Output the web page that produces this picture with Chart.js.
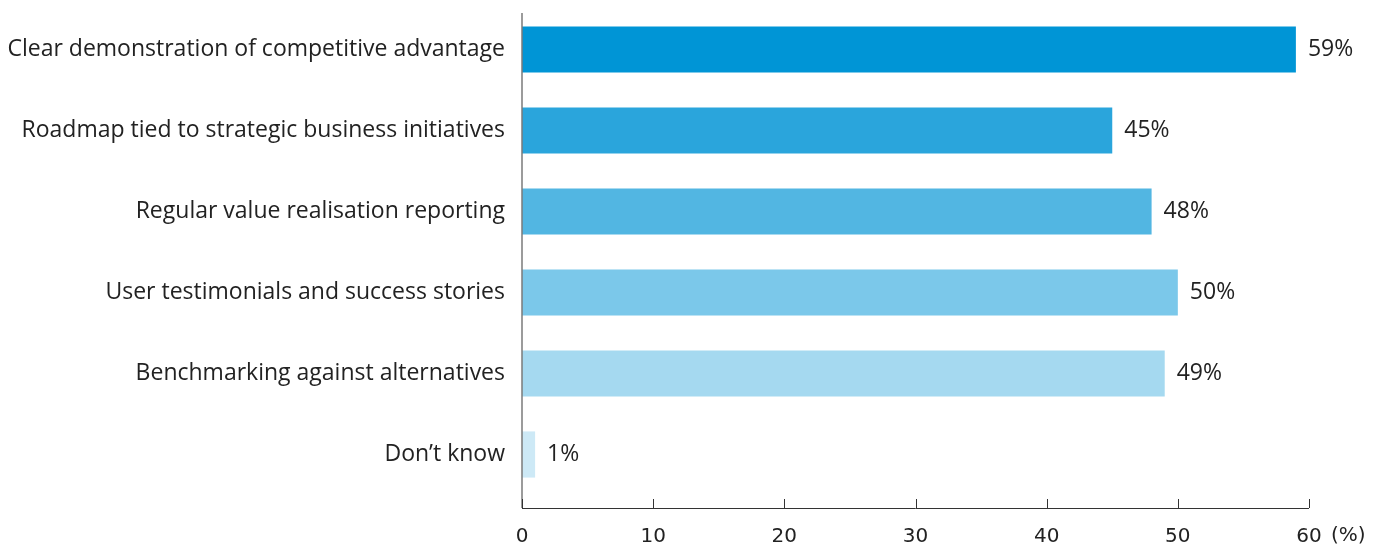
<!DOCTYPE html>
<html>
<head>
<meta charset="utf-8">
<script src="https://cdn.jsdelivr.net/npm/chart.js@4"></script>
<style>
  html, body { margin: 0; padding: 0; background: #fff; }
  #wrap { width: 1383px; height: 544px; position: relative; }
</style>
</head>
<body>
<div id="wrap"><canvas id="valueChart"></canvas></div>
<script>
// chart data
const categories = [
    'Clear demonstration of competitive advantage',
    'Roadmap tied to strategic business initiatives',
    'Regular value realisation reporting',
    'User testimonials and success stories',
    'Benchmarking against alternatives',
    'Don\u2019t know'
];
const values = [59, 45, 48, 50, 49, 1];
const barColors = ['#0095d6', '#2aa5dc', '#52b6e2', '#7bc8ea', '#a5d9f0', '#cde9f6'];
const xTicks = [0, 10, 20, 30, 40, 50, 60];
const unitLabel = '(%)';

const labelFont = '"Open Sans", Lato, sans-serif';
const tickFont = '"DejaVu Sans", sans-serif';

// axis lines, tick marks and value labels
const axisPlugin = {
    id: 'axisPlugin',
    afterDatasetsDraw(chart) {
        const ctx = chart.ctx;
        const xs = chart.scales.x;
        const area = chart.chartArea;
        const x0 = xs.getPixelForValue(0);
        const axisY = area.bottom + 13;

        ctx.save();
        // vertical axis
        ctx.strokeStyle = '#7a7a7a';
        ctx.lineWidth = 1.5;
        ctx.beginPath();
        ctx.moveTo(x0, 13);
        ctx.lineTo(x0, axisY);
        ctx.stroke();

        // horizontal axis with inner tick marks
        ctx.strokeStyle = '#333';
        ctx.lineWidth = 1;
        ctx.beginPath();
        ctx.moveTo(x0, axisY + 0.5);
        ctx.lineTo(xs.getPixelForValue(60), axisY + 0.5);
        xTicks.forEach(t => {
            const px = Math.round(xs.getPixelForValue(t)) + 0.5;
            ctx.moveTo(px, axisY);
            ctx.lineTo(px, axisY - 9);
        });
        ctx.stroke();

        // unit next to last tick
        ctx.fillStyle = '#222';
        ctx.font = '20px ' + tickFont;
        ctx.textBaseline = 'middle';
        ctx.textAlign = 'left';
        ctx.fillText(unitLabel, xs.getPixelForValue(60) + 22, 536);

        // value labels
        ctx.font = '23px ' + labelFont;
        const meta = chart.getDatasetMeta(0);
        meta.data.forEach((bar, i) => {
            ctx.fillText(values[i] + '%', bar.x + 12, bar.y);
        });
        ctx.restore();
    }
};

const ctx = document.getElementById('valueChart').getContext('2d');
const valueChart = new Chart(ctx, {
    type: 'bar',
    data: {
        labels: categories,
        datasets: [{
            data: values,
            backgroundColor: barColors,
            borderWidth: 0,
            barPercentage: 0.57,
            categoryPercentage: 1
        }]
    },
    options: {
        indexAxis: 'y',
        responsive: true,
        maintainAspectRatio: false,
        animation: false,
        layout: {
            padding: { top: 9, right: 74, bottom: 0, left: 0 }
        },
        plugins: {
            legend: { display: false },
            tooltip: { enabled: false }
        },
        scales: {
            x: {
                min: 0,
                max: 60,
                afterBuildTicks(scale) {
                    scale.ticks = xTicks.map(v => ({ value: v }));
                },
                afterFit(scale) {
                    scale.height = 49;
                },
                grid: { display: false, drawTicks: false },
                border: { display: false },
                ticks: {
                    padding: 30,
                    maxRotation: 0,
                    color: '#222',
                    font: { family: tickFont, size: 20 }
                }
            },
            y: {
                afterFit(scale) {
                    scale.width = 522;
                    scale.paddingTop = 0;
                    scale.paddingBottom = 0;
                },
                grid: { display: false, drawTicks: false },
                border: { display: false },
                ticks: {
                    padding: 17,
                    color: '#222',
                    font: { family: labelFont, size: 23 }
                }
            }
        }
    },
    plugins: [axisPlugin]
});
</script>
</body>
</html>
